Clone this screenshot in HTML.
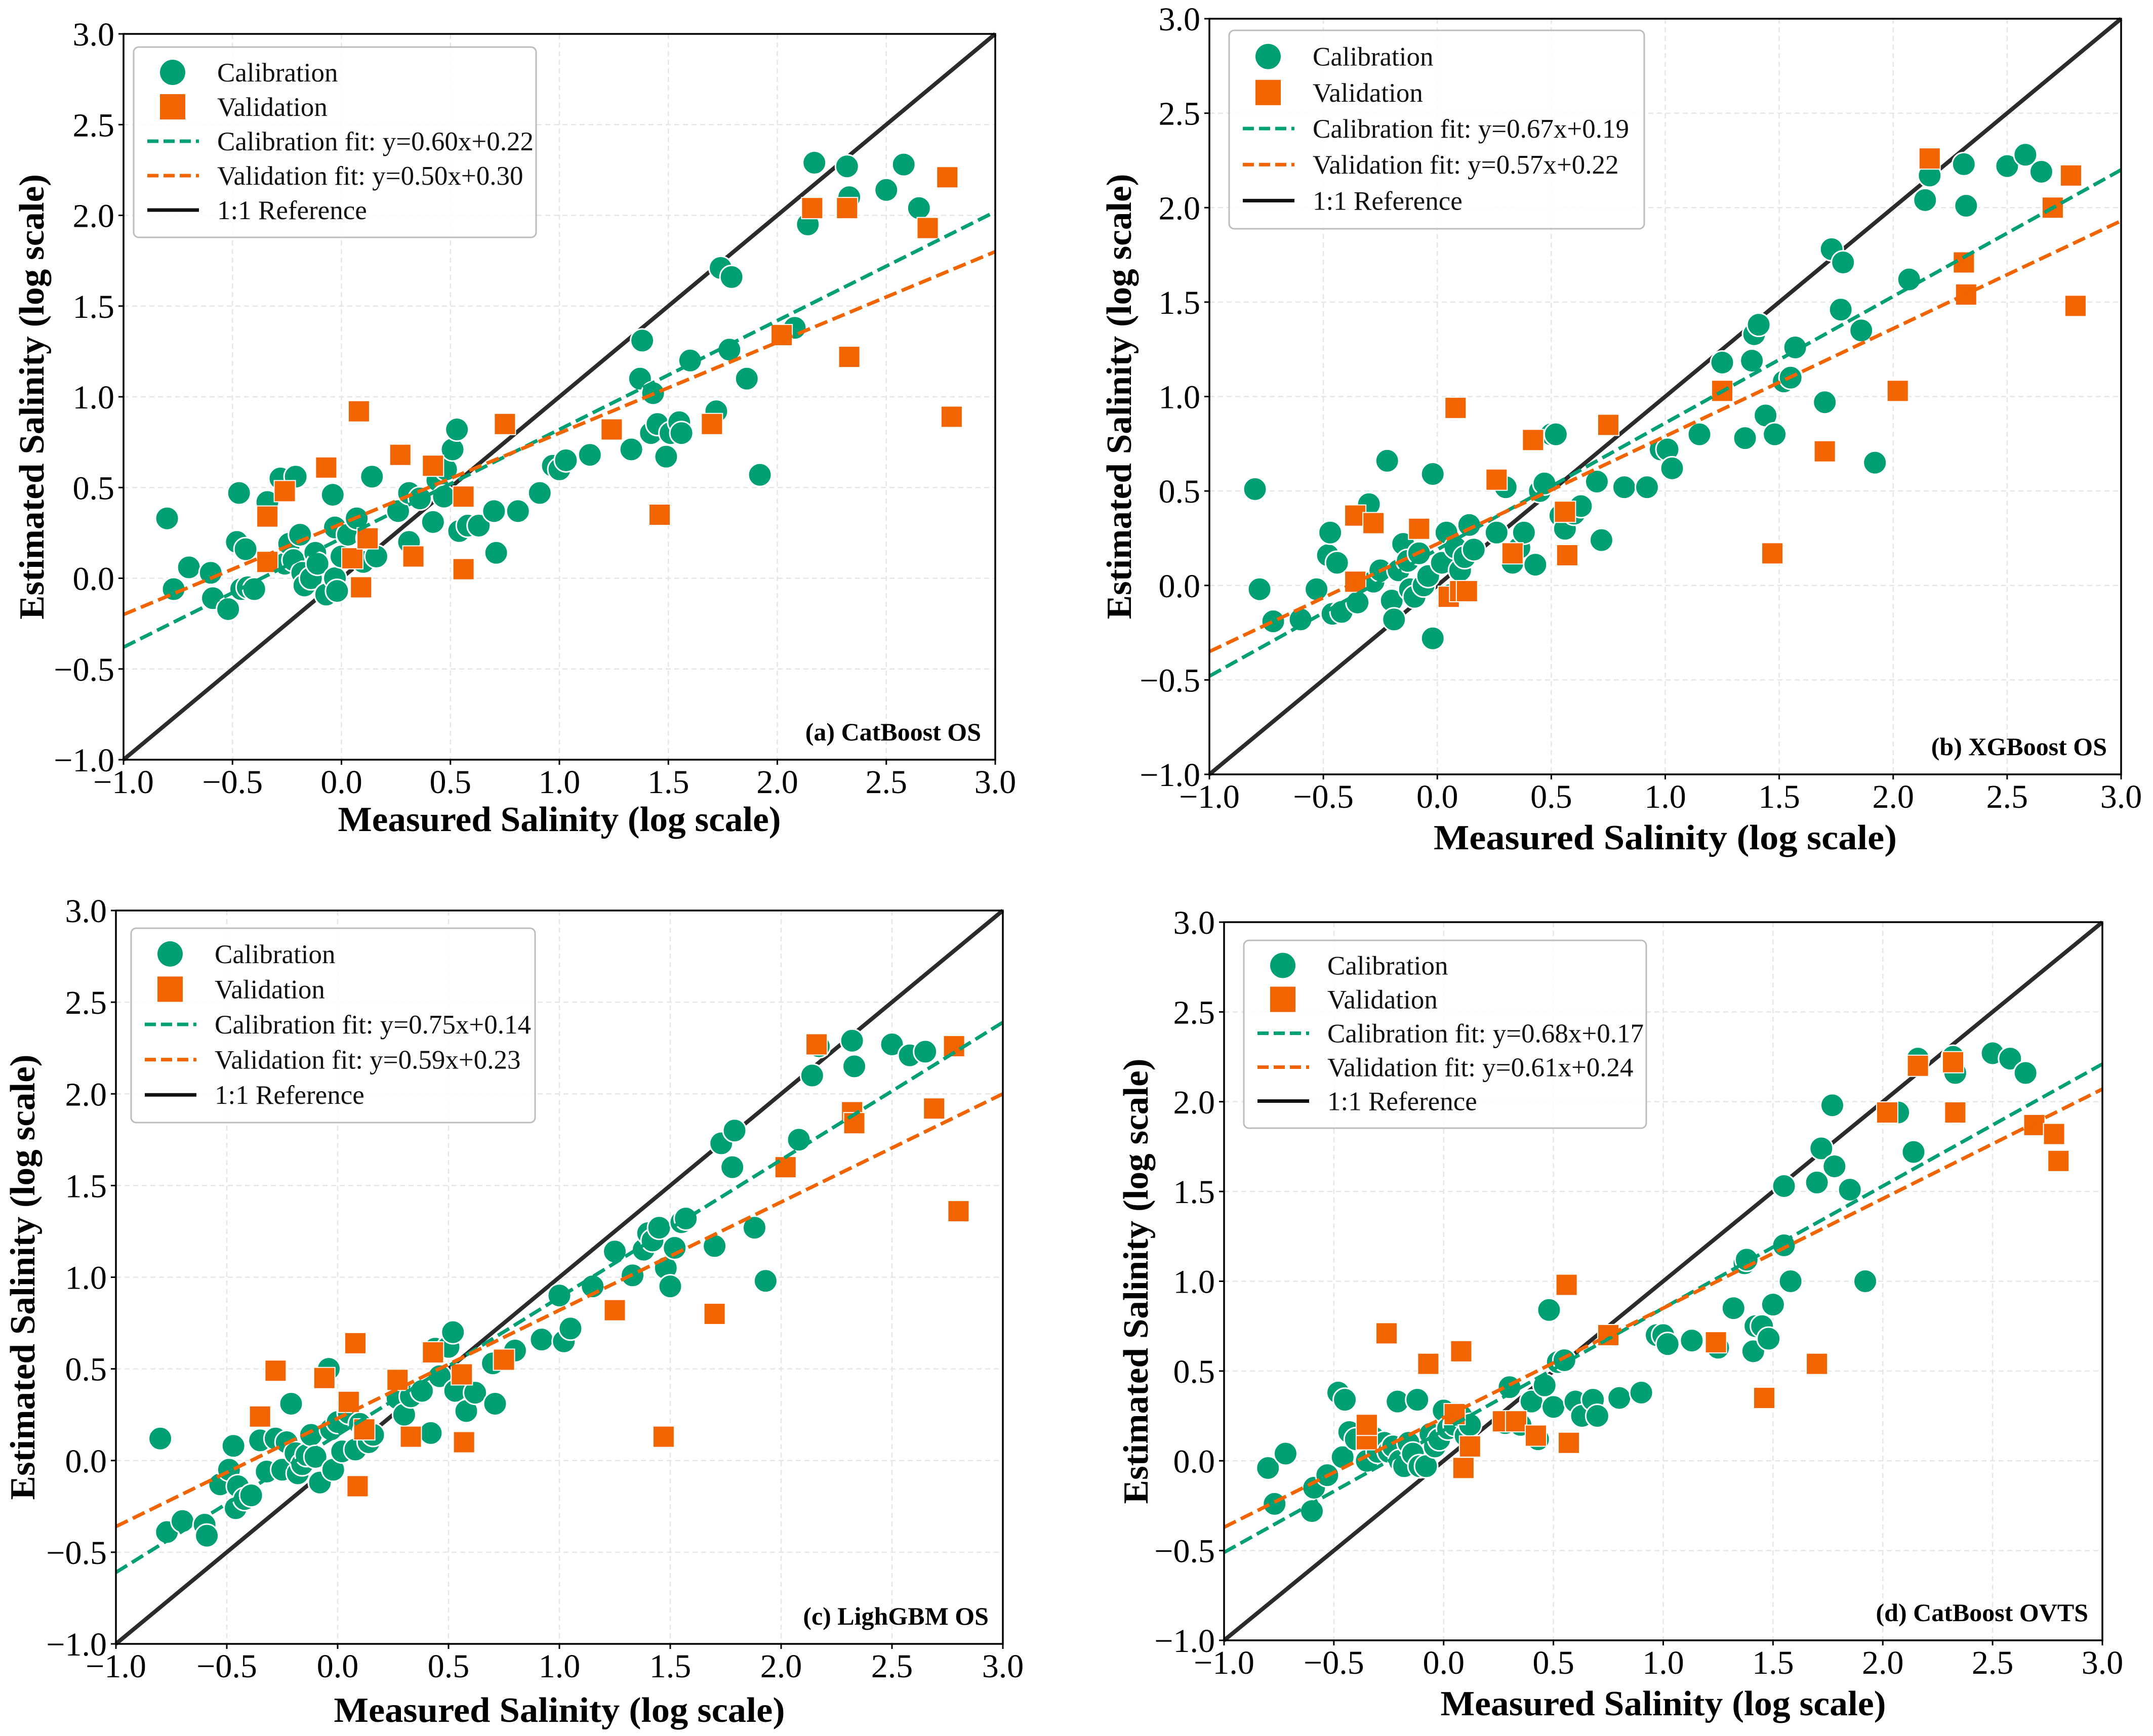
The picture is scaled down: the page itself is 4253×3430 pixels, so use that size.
<!DOCTYPE html>
<html><head><meta charset="utf-8"><title>Salinity scatter plots</title>
<style>
html,body{margin:0;padding:0;background:#fff;}
svg{display:block;font-family:"Liberation Serif","DejaVu Serif",serif;}
</style></head>
<body>
<svg id="fig" xmlns="http://www.w3.org/2000/svg" width="4253" height="3430" viewBox="0 0 4253 3430"></svg>
<script>
// ---- shared axis ticks ----
const tickValues = [-1.0, -0.5, 0.0, 0.5, 1.0, 1.5, 2.0, 2.5, 3.0];
const tickLabels = ["\u22121.0", "\u22120.5", "0.0", "0.5", "1.0", "1.5", "2.0", "2.5", "3.0"];

// ---- Panel (a) CatBoost OS ----
const calX_a = [-0.8,-0.77,-0.7,-0.6,-0.59,-0.52,-0.48,-0.47,-0.46,-0.44,-0.43,-0.4,-0.34,-0.28,-0.26,-0.24,-0.22,-0.21,-0.19,-0.18,-0.17,-0.14,-0.12,-0.11,-0.07,-0.04,-0.03,-0.03,-0.02,0.0,0.03,0.07,0.1,0.12,0.14,0.16,0.26,0.31,0.31,0.36,0.42,0.44,0.47,0.48,0.51,0.53,0.54,0.58,0.63,0.7,0.71,0.81,0.91,0.97,1.0,1.03,1.14,1.33,1.37,1.38,1.42,1.43,1.45,1.49,1.51,1.55,1.56,1.6,1.72,1.74,1.78,1.79,1.86,1.92,2.08,2.14,2.17,2.32,2.33,2.5,2.58,2.65];
const calY_a = [0.33,-0.06,0.06,0.03,-0.11,-0.17,0.2,0.47,-0.06,0.16,-0.05,-0.06,0.42,0.55,0.08,0.19,0.1,0.56,0.24,0.03,-0.04,0.0,0.14,0.08,-0.09,0.46,0.28,0.0,-0.07,0.12,0.24,0.33,0.09,0.22,0.56,0.12,0.37,0.2,0.47,0.44,0.31,0.54,0.45,0.6,0.71,0.82,0.26,0.29,0.29,0.37,0.14,0.37,0.47,0.62,0.6,0.65,0.68,0.71,1.1,1.31,0.8,1.02,0.85,0.67,0.8,0.86,0.8,1.2,0.92,1.71,1.26,1.66,1.1,0.57,1.38,1.95,2.29,2.27,2.1,2.14,2.28,2.04];
const valX_a = [-0.34,-0.34,-0.26,-0.07,0.05,0.08,0.09,0.12,0.27,0.33,0.42,0.56,0.56,0.75,1.24,1.46,1.7,2.02,2.16,2.32,2.33,2.69,2.78,2.8];
const valY_a = [0.09,0.34,0.48,0.61,0.11,0.92,-0.05,0.22,0.68,0.12,0.62,0.45,0.05,0.85,0.82,0.35,0.85,1.34,2.04,2.04,1.22,1.93,2.21,0.89];
const fitCal_a = [0.60, 0.22];
const fitVal_a = [0.50, 0.30];

// ---- Panel (b) XGBoost OS ----
const calX_b = [-0.8,-0.78,-0.72,-0.6,-0.53,-0.48,-0.47,-0.46,-0.44,-0.42,-0.35,-0.3,-0.28,-0.25,-0.22,-0.2,-0.19,-0.17,-0.15,-0.13,-0.12,-0.1,-0.08,-0.06,-0.04,-0.02,-0.02,0.02,0.04,0.06,0.08,0.1,0.12,0.14,0.16,0.26,0.3,0.33,0.36,0.38,0.43,0.45,0.47,0.5,0.52,0.54,0.56,0.6,0.63,0.7,0.72,0.82,0.92,0.98,1.01,1.03,1.15,1.25,1.35,1.38,1.39,1.41,1.44,1.48,1.52,1.55,1.57,1.7,1.73,1.77,1.78,1.86,1.92,2.07,2.14,2.16,2.31,2.32,2.5,2.58,2.65];
const calY_b = [0.51,-0.02,-0.19,-0.18,-0.02,0.16,0.28,-0.15,0.12,-0.14,-0.09,0.43,0.02,0.08,0.66,-0.08,-0.18,0.08,0.22,0.13,-0.02,-0.06,0.17,0.0,0.05,0.59,-0.28,0.12,0.28,-0.05,0.2,0.08,0.15,0.32,0.19,0.28,0.52,0.12,0.2,0.28,0.11,0.5,0.54,0.8,0.8,0.37,0.3,0.38,0.42,0.55,0.24,0.52,0.52,0.72,0.72,0.62,0.8,1.18,0.78,1.19,1.33,1.38,0.9,0.8,1.08,1.1,1.26,0.97,1.78,1.46,1.71,1.35,0.65,1.62,2.04,2.17,2.23,2.01,2.22,2.28,2.19];
const valX_b = [-0.36,-0.36,-0.28,-0.08,0.05,0.08,0.1,0.13,0.26,0.33,0.42,0.56,0.57,0.75,1.25,1.47,1.7,2.02,2.16,2.31,2.32,2.7,2.78,2.8];
const valY_b = [0.02,0.37,0.33,0.3,-0.06,0.94,-0.03,-0.03,0.56,0.17,0.77,0.39,0.16,0.85,1.03,0.17,0.71,1.03,2.26,1.71,1.54,2.0,2.17,1.48];
const fitCal_b = [0.67, 0.19];
const fitVal_b = [0.57, 0.22];

// ---- Panel (c) LighGBM OS ----
const calX_c = [-0.8,-0.77,-0.7,-0.6,-0.59,-0.53,-0.49,-0.47,-0.46,-0.45,-0.42,-0.39,-0.35,-0.32,-0.28,-0.25,-0.23,-0.21,-0.19,-0.18,-0.16,-0.14,-0.12,-0.1,-0.08,-0.04,-0.03,-0.02,0.0,0.02,0.05,0.08,0.1,0.12,0.14,0.16,0.27,0.3,0.33,0.38,0.42,0.44,0.46,0.5,0.52,0.53,0.58,0.62,0.7,0.71,0.8,0.92,1.0,1.02,1.05,1.15,1.25,1.33,1.38,1.4,1.42,1.45,1.48,1.5,1.52,1.55,1.57,1.7,1.73,1.78,1.79,1.88,1.93,2.08,2.14,2.17,2.32,2.33,2.5,2.58,2.65];
const calY_c = [0.12,-0.39,-0.33,-0.35,-0.41,-0.13,-0.05,0.08,-0.26,-0.14,-0.21,-0.19,0.11,-0.06,0.12,-0.05,0.1,0.31,0.04,-0.07,-0.02,0.03,0.14,0.02,-0.12,0.5,0.17,-0.05,0.21,0.05,0.26,0.06,0.2,0.16,0.1,0.14,0.34,0.25,0.35,0.38,0.15,0.61,0.46,0.62,0.7,0.38,0.27,0.37,0.53,0.31,0.6,0.66,0.9,0.65,0.72,0.95,1.14,1.01,1.15,1.24,1.2,1.27,1.05,0.95,1.16,1.3,1.32,1.17,1.73,1.6,1.8,1.27,0.98,1.75,2.1,2.26,2.29,2.15,2.27,2.21,2.23];
const valX_c = [-0.35,-0.28,-0.06,0.05,0.08,0.09,0.12,0.27,0.33,0.43,0.56,0.57,0.75,1.25,1.47,1.7,2.02,2.16,2.32,2.33,2.69,2.78,2.8];
const valY_c = [0.24,0.49,0.45,0.32,0.64,-0.14,0.17,0.44,0.13,0.59,0.47,0.1,0.55,0.82,0.13,0.8,1.6,2.27,1.9,1.84,1.92,2.26,1.36];
const fitCal_c = [0.75, 0.14];
const fitVal_c = [0.59, 0.23];

// ---- Panel (d) CatBoost OVTS ----
const calX_d = [-0.8,-0.77,-0.72,-0.6,-0.59,-0.53,-0.48,-0.46,-0.45,-0.43,-0.4,-0.35,-0.32,-0.3,-0.27,-0.25,-0.23,-0.21,-0.2,-0.18,-0.16,-0.14,-0.12,-0.11,-0.08,-0.06,-0.04,-0.02,0.0,0.02,0.05,0.08,0.1,0.12,0.28,0.3,0.35,0.4,0.43,0.46,0.48,0.5,0.52,0.55,0.6,0.63,0.68,0.7,0.8,0.9,0.97,1.0,1.02,1.13,1.25,1.32,1.37,1.38,1.41,1.42,1.45,1.48,1.5,1.55,1.55,1.58,1.7,1.72,1.77,1.78,1.85,1.92,2.07,2.14,2.16,2.32,2.33,2.5,2.58,2.65];
const calY_d = [-0.04,-0.24,0.04,-0.28,-0.15,-0.08,0.38,0.02,0.34,0.16,0.12,0.0,0.13,0.05,0.1,0.05,0.08,0.33,0.0,-0.03,0.1,0.04,0.34,-0.03,-0.03,0.15,0.08,0.12,0.28,0.18,0.2,0.25,0.14,0.2,0.21,0.41,0.2,0.33,0.12,0.42,0.84,0.3,0.55,0.56,0.33,0.25,0.34,0.25,0.35,0.38,0.7,0.7,0.65,0.67,0.63,0.85,1.1,1.12,0.61,0.75,0.75,0.68,0.87,1.53,1.2,1.0,1.55,1.74,1.98,1.64,1.51,1.0,1.94,1.72,2.24,2.25,2.16,2.27,2.24,2.16];
const valX_d = [-0.35,-0.35,-0.26,-0.07,0.05,0.08,0.09,0.12,0.27,0.33,0.42,0.56,0.57,0.75,1.24,1.46,1.7,2.02,2.16,2.32,2.33,2.69,2.78,2.8];
const valY_d = [0.12,0.2,0.71,0.54,0.26,0.61,-0.04,0.08,0.22,0.22,0.14,0.98,0.1,0.7,0.66,0.35,0.54,1.94,2.2,2.22,1.94,1.87,1.82,1.67];
const fitCal_d = [0.68, 0.17];
const fitVal_d = [0.61, 0.24];

const GREEN = "#009f74", ORANGE = "#f26400";
const NS = "http://www.w3.org/2000/svg";
const fig = document.getElementById("fig");

function mk(tag, attrs, parent) {
  const e = document.createElementNS(NS, tag);
  for (const k in attrs) e.setAttribute(k, attrs[k]);
  (parent || fig).appendChild(e);
  return e;
}
function fmt(v){ return v.toFixed(2); }

function drawPanel(p) {
  const g = mk("g", {});
  
  
  const sx = v => p.L + (v - (-1)) / 4 * (p.R - p.L);
  const sy = v => p.B - (v - (-1)) / 4 * (p.B - p.T);

  tickValues.forEach((t, i) => {
    const gx = mk("line", {x1:sx(t), x2:sx(t), y1:p.T, y2:p.B, stroke:"#e6e6e6", "stroke-width":2.5, "stroke-dasharray":"10 7"}, g);
    
    
    const gy = mk("line", {x1:p.L, x2:p.R, y1:sy(t), y2:sy(t), stroke:"#e6e6e6", "stroke-width":2.5, "stroke-dasharray":"10 7"}, g);
    
    
  });

  tickValues.forEach((t, i) => {
    const tx = mk("line", {x1:sx(t), x2:sx(t), y1:p.B, y2:p.B+10, stroke:"#000", "stroke-width":3}, g);
    
    
    const lx = mk("text", {x:sx(t), y:p.B+66, "font-size":66, "text-anchor":"middle", fill:"#000"}, g);
    lx.textContent = tickLabels[i];
    
    
    const ty = mk("line", {x1:p.L-10, x2:p.L, y1:sy(t), y2:sy(t), stroke:"#000", "stroke-width":3}, g);
    
    
    const ly = mk("text", {x:p.L-18, y:sy(t)+23, "font-size":66, "text-anchor":"end", fill:"#000"}, g);
    ly.textContent = tickLabels[i];
    
    
  });

  const ref = mk("line", {x1:sx(-1), y1:sy(-1), x2:sx(3), y2:sy(3), stroke:"#2b2b2b", "stroke-width":8}, g);
  
  

  p.calX.forEach((x, i) => {
    const c = mk("circle", {cx:sx(x), cy:sy(p.calY[i]), r:23, fill:GREEN, stroke:"#fff", "stroke-width":3}, g);
    
    
  });
  p.valX.forEach((x, i) => {
    const s = mk("rect", {x:sx(x)-21, y:sy(p.valY[i])-21, width:42, height:42, fill:ORANGE, stroke:"#fff", "stroke-width":2}, g);
    
    
  });

  const fc = mk("line", {x1:sx(-1), y1:sy(p.fitCal[0]*-1+p.fitCal[1]), x2:sx(3), y2:sy(p.fitCal[0]*3+p.fitCal[1]), stroke:GREEN, "stroke-width":7, "stroke-dasharray":"26 11"}, g);
  
  
  const fv = mk("line", {x1:sx(-1), y1:sy(p.fitVal[0]*-1+p.fitVal[1]), x2:sx(3), y2:sy(p.fitVal[0]*3+p.fitVal[1]), stroke:ORANGE, "stroke-width":7, "stroke-dasharray":"26 11"}, g);
  
  

  const fr = mk("rect", {x:p.L, y:p.T, width:p.R-p.L, height:p.B-p.T, fill:"none", stroke:"#000", "stroke-width":3.5}, g);
  
  

  const lg = mk("g", {}, g);
  
  
  const box = mk("rect", {x:p.lgX, y:p.lgY, width:p.lgW, height:p.lgH, rx:10, fill:"#fff", "fill-opacity":0.85, stroke:"#bdbdbd", "stroke-width":3}, lg);
  
  
  const rowH = (p.lgH - 36) / 5;
  const mx = p.lgX + 77, tx = p.lgX + 165;
  const labels = ["Calibration", "Validation",
    "Calibration fit: y=" + fmt(p.fitCal[0]) + "x+" + fmt(p.fitCal[1]),
    "Validation fit: y=" + fmt(p.fitVal[0]) + "x+" + fmt(p.fitVal[1]),
    "1:1 Reference"];
  const names = ["legend-entry-calibration","legend-entry-validation","legend-entry-calibration-fit","legend-entry-validation-fit","legend-entry-reference"];
  labels.forEach((lab, i) => {
    const cy = p.lgY + 16 + rowH * (i + 0.5);
    const eg = mk("g", {}, lg);
    
    
    if (i === 0) mk("circle", {cx:mx, cy:cy, r:25, fill:GREEN}, eg);
    else if (i === 1) mk("rect", {x:mx-25, y:cy-25, width:50, height:50, fill:ORANGE}, eg);
    else mk("line", {x1:mx-50, x2:mx+52, y1:cy, y2:cy, stroke:i===2?GREEN:(i===3?ORANGE:"#111"), "stroke-width":7, "stroke-dasharray":i===4?"none":"22 10"}, eg);
    const t = mk("text", {x:tx, y:cy+18, "font-size":53, fill:"#111"}, eg);
    t.textContent = lab;
  });

  const pl = mk("text", {x:p.R-28, y:p.B-38, "font-size":50, "font-weight":"bold", "text-anchor":"end", fill:"#000"}, g);
  pl.textContent = p.label;
  
  

  const xt = mk("text", {x:(p.L+p.R)/2, y:p.xtY, "font-size":70, "font-weight":"bold", "text-anchor":"middle", textLength:p.xtW, lengthAdjust:"spacingAndGlyphs", fill:"#000"}, g);
  xt.textContent = "Measured Salinity (log scale)";
  
  
  const yc = (p.T + p.B) / 2;
  const yt = mk("text", {x:p.ytX, y:yc, "font-size":70, "font-weight":"bold", "text-anchor":"middle", textLength:880, lengthAdjust:"spacingAndGlyphs", fill:"#000", transform:"rotate(-90 " + p.ytX + " " + yc + ")"}, g);
  yt.textContent = "Estimated Salinity (log scale)";
  
  
}

drawPanel({id:"a", L:244, R:1966, T:67, B:1501, calX:calX_a, calY:calY_a, valX:valX_a, valY:valY_a, fitCal:fitCal_a, fitVal:fitVal_a,
  lgX:264, lgY:93, lgW:795, lgH:376, label:"(a) CatBoost OS", xtY:1642, xtW:875, ytX:86});
drawPanel({id:"b", L:2389, R:4190, T:37, B:1530, calX:calX_b, calY:calY_b, valX:valX_b, valY:valY_b, fitCal:fitCal_b, fitVal:fitVal_b,
  lgX:2428, lgY:60, lgW:820, lgH:392, label:"(b) XGBoost OS", xtY:1678, xtW:915, ytX:2234});
drawPanel({id:"c", L:229, R:1981, T:1799, B:3248, calX:calX_c, calY:calY_c, valX:valX_c, valY:valY_c, fitCal:fitCal_c, fitVal:fitVal_c,
  lgX:259, lgY:1834, lgW:798, lgH:384, label:"(c) LighGBM OS", xtY:3402, xtW:891, ytX:68});
drawPanel({id:"d", L:2418, R:4153, T:1822, B:3241, calX:calX_d, calY:calY_d, valX:valX_d, valY:valY_d, fitCal:fitCal_d, fitVal:fitVal_d,
  lgX:2457, lgY:1858, lgW:795, lgH:371, label:"(d) CatBoost OVTS", xtY:3389, xtW:880, ytX:2267});
</script>
</body></html>
